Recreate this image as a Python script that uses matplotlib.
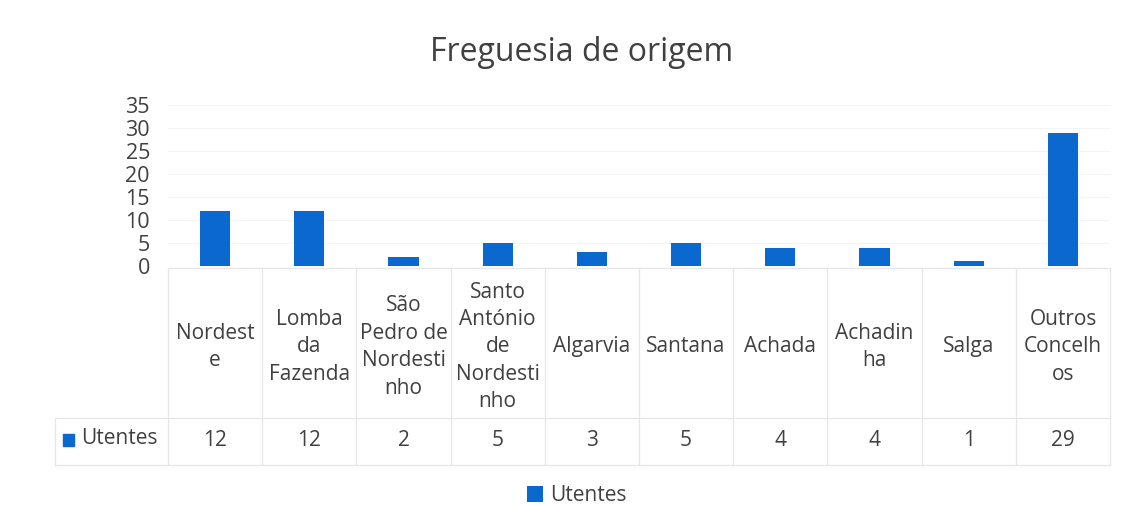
import matplotlib
matplotlib.use('Agg')
import matplotlib.pyplot as plt
from matplotlib.transforms import blended_transform_factory
from matplotlib.patches import Rectangle

plt.rcParams['font.family'] = ['Open Sans', 'DejaVu Sans']

# dados
categorias = ['Nordeste', 'Lomba da Fazenda', 'São Pedro de Nordestinho',
              'Santo António de Nordestinho', 'Algarvia', 'Santana', 'Achada',
              'Achadinha', 'Salga', 'Outros Concelhos']
rotulos = ['Nordest\ne', 'Lomba\nda\nFazenda', 'São\nPedro de\nNordesti\nnho',
           'Santo\nAntónio\nde\nNordesti\nnho', 'Algarvia', 'Santana', 'Achada',
           'Achadin\nha', 'Salga', 'Outros\nConcelh\nos']
utentes = [12, 12, 2, 5, 3, 5, 4, 4, 1, 29]
serie = 'Utentes'
yticks = [0, 5, 10, 15, 20, 25, 30, 35]

azul = '#0A68CF'
cinza = '#404040'
linha = '#e6e6e6'
fs = 15

fig = plt.figure(figsize=(11.31, 5.32), dpi=100)
ax = fig.add_axes([0.1485, 0.5, 0.833, 0.3026])

x = list(range(len(categorias)))
barras = ax.bar(x, utentes, width=0.32, color=azul, label=serie, zorder=3)

ax.set_xlim(-0.5, len(categorias) - 0.5)
ax.set_ylim(0, 35)
ax.set_yticks(yticks)
ax.set_yticklabels([str(v) for v in yticks], fontsize=15.5, color=cinza)
ax.tick_params(axis='y', length=0, pad=13)
ax.set_xticks([])
for s in ax.spines.values():
    s.set_visible(False)
ax.grid(axis='y', color='#f4f4f4', lw=0.8, zorder=0)

fig.text(0.514, 0.902, 'Freguesia de origem', ha='center', va='center',
         fontsize=23, color=cinza)

# tabela de dados
tr = blended_transform_factory(ax.transData, ax.transAxes)
y_top, y_sep, y_bot = -0.012, -0.944, -1.236
y_cat, y_val = -0.503, -1.081
n = len(categorias)
for i in range(n + 1):
    ax.plot([i - 0.5, i - 0.5], [y_top, y_bot], color=linha, lw=0.9,
            transform=tr, clip_on=False)
ax.plot([-0.5, n - 0.5], [y_top, y_top], color=linha, lw=0.9, transform=tr, clip_on=False)
ax.plot([-1.7, n - 0.5], [y_sep, y_sep], color=linha, lw=0.9, transform=tr, clip_on=False)
ax.plot([-1.7, n - 0.5], [y_bot, y_bot], color=linha, lw=0.9, transform=tr, clip_on=False)
ax.plot([-1.7, -1.7], [y_sep, y_bot], color=linha, lw=0.9, transform=tr, clip_on=False)

for i, (r, v) in enumerate(zip(rotulos, utentes)):
    ax.text(i, y_cat, r, ha='center', va='center', fontsize=fs, color=cinza,
            linespacing=1.4, transform=tr)
    ax.text(i, y_val, str(v), ha='center', va='center', fontsize=fs,
            color=cinza, transform=tr)

fig.patches.append(Rectangle((63 / 1131, 1 - 446 / 532), 11 / 1131, 12 / 532,
                             color=azul, transform=fig.transFigure))
fig.text(81 / 1131, 1 - 439 / 532, serie, ha='left', va='center', fontsize=fs,
         color=cinza)

fig.legend(handles=[barras], labels=[serie], loc='center', bbox_to_anchor=(0.51, 0.068),
           frameon=False, fontsize=fs, handlelength=0.8, handleheight=0.8,
           handletextpad=0.35, labelcolor=cinza)

fig.savefig('out.png', dpi=100, facecolor='white')
